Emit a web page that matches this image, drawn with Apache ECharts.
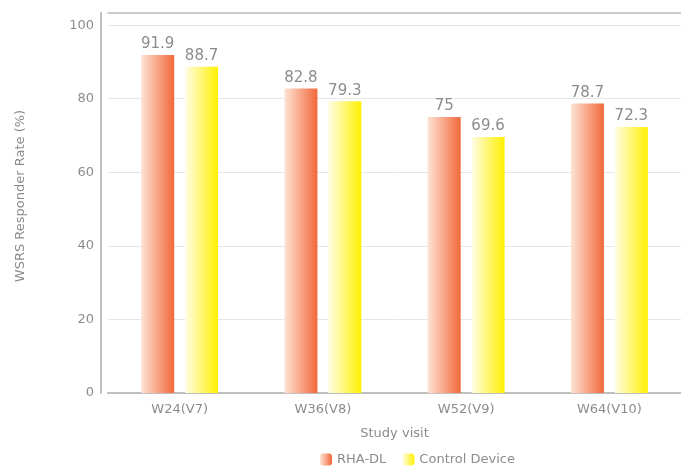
<!DOCTYPE html>
<html><head><meta charset="utf-8">
<script src="https://cdn.jsdelivr.net/npm/echarts@6/dist/echarts.min.js"></script>
<style>html,body{margin:0;padding:0;background:#fff}#c{width:681px;height:466px}</style>
</head><body><div id="c"></div>
<script>
const categories = ['W24(V7)', 'W36(V8)', 'W52(V9)', 'W64(V10)'];
const rhaDL = [91.9, 82.8, 75, 78.7];
const controlDevice = [88.7, 79.3, 69.6, 72.3];
const seriesNames = ['RHA-DL', 'Control Device'];

const font = 'DejaVu Sans';
const grey = '#8c8c8c';
const axisGrey = '#bfbfbf';
function grad(a, b) {
  return new echarts.graphic.LinearGradient(0, 0, 1, 0, [{offset: 0, color: a}, {offset: 1, color: b}]);
}
const chart = echarts.init(document.getElementById('c'));
chart.setOption({
  animation: false,
  textStyle: {fontFamily: font},
  grid: {left: 108, right: -2, top: 13, bottom: 73},
  legend: {
    bottom: -5, left: 315, itemWidth: 12, itemHeight: 12, itemGap: 16,
    textStyle: {color: grey, fontSize: 13, fontFamily: font},
    data: seriesNames
  },
  xAxis: [{
    type: 'category', data: categories,
    name: 'Study visit', nameLocation: 'middle', nameGap: 34,
    nameTextStyle: {color: grey, fontSize: 13},
    axisLine: {lineStyle: {color: axisGrey, width: 2}},
    axisTick: {show: false},
    axisLabel: {color: grey, fontSize: 13, margin: 10}
  }, {
    type: 'category', data: categories, position: 'top',
    axisLine: {show: true, lineStyle: {color: axisGrey, width: 1.5}},
    axisTick: {show: false}, axisLabel: {show: false}, splitLine: {show: false}
  }],
  yAxis: {
    type: 'value', min: 0, max: 103.3, interval: 20, offset: 7,
    name: 'WSRS Responder Rate (%)', nameLocation: 'middle', nameGap: 74,
    nameTextStyle: {color: grey, fontSize: 13, padding: [0, 0, 0, 14]},
    axisLine: {show: true, lineStyle: {color: axisGrey, width: 2}},
    axisTick: {show: false},
    axisLabel: {color: grey, fontSize: 13, margin: 7, showMaxLabel: false},
    splitLine: {lineStyle: {color: '#e6e6e6'}}
  },
  series: [
    {
      name: seriesNames[0], type: 'bar', data: rhaDL, barWidth: 33, barGap: '33%',
      itemStyle: {color: grad('#fee3d4', '#f2683a')},
      label: {show: true, position: 'top', color: grey, fontSize: 15, distance: 3}
    },
    {
      name: seriesNames[1], type: 'bar', data: controlDevice, barWidth: 33,
      itemStyle: {color: grad('#fffde6', '#fff000')},
      label: {show: true, position: 'top', color: grey, fontSize: 15, distance: 3}
    }
  ]
});
</script></body></html>
